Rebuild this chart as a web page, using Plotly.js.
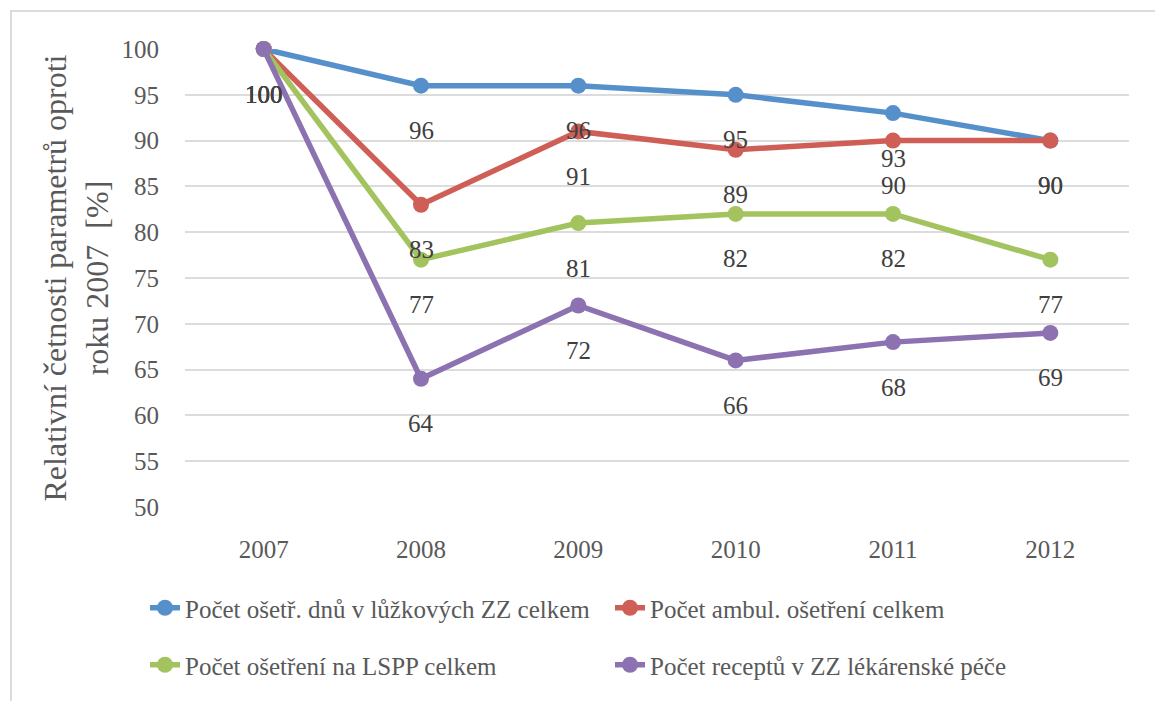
<!DOCTYPE html>
<html>
<head>
<meta charset="utf-8">
<script src="https://cdn.plot.ly/plotly-3.0.1.min.js"></script>
<style>
  html, body { margin: 0; padding: 0; background: #ffffff; }
  #wrap { position: relative; width: 1155px; height: 701px; }
  #chart { position: absolute; left: 0; top: 0; width: 1155px; height: 701px; }
  #frame {
    position: absolute; left: 10px; top: 10px; width: 1145px; height: 691px;
    border-top: 2px solid #dcdcdc; border-left: 2px solid #dcdcdc;
    pointer-events: none;
  }
</style>
</head>
<body>
<div id="wrap">
  <div id="chart"></div>
  <div id="frame"></div>
</div>
<script>
// Years on the x axis
const years = [2007, 2008, 2009, 2010, 2011, 2012];

// Relative values against 2007 (= 100 %)
const osetrDnu   = [100, 96, 96, 95, 93, 90];
const ambulOset  = [100, 83, 91, 89, 90, 90];
const lsppOset   = [100, 77, 81, 82, 82, 77];
const receptyZZ  = [100, 64, 72, 66, 68, 69];

const seriesNames = [
  'Počet ošetř. dnů v lůžkových ZZ celkem',
  'Počet ambul. ošetření celkem',
  'Počet ošetření na LSPP celkem',
  'Počet receptů v ZZ lékárenské péče'
];

const yTicks = [50, 55, 60, 65, 70, 75, 80, 85, 90, 95, 100];

const FONT = 'Liberation Serif, Cambria, serif';
const series = [osetrDnu, ambulOset, lsppOset, receptyZZ];
const colors = ['#5690cb', '#cf5f56', '#a2c35e', '#8c72b1'];
const legendIds = ['legend', 'legend', 'legend2', 'legend2'];

const traces = series.map((vals, k) => ({
  type: 'scatter',
  mode: 'lines+markers',
  x: years,
  y: vals,
  name: seriesNames[k],
  legend: legendIds[k],
  line: { color: colors[k], width: 5.5 },
  marker: { color: colors[k], size: 16 },
  cliponaxis: false,
  hoverinfo: 'skip'
}));

// Value labels placed under each point
const annotations = [];
series.forEach(vals => {
  vals.forEach((v, i) => {
    annotations.push({
      x: years[i], y: v, xref: 'x', yref: 'y',
      text: String(v), showarrow: false,
      yshift: -45, yanchor: 'middle', xanchor: 'center',
      font: { family: FONT, size: 25, color: '#404040' }
    });
  });
});

const legendBase = {
  orientation: 'h',
  xref: 'container', yref: 'container',
  xanchor: 'left', yanchor: 'middle',
  x: 145 / 1155,
  entrywidth: 420,
  entrywidthmode: 'pixels',
  bgcolor: 'rgba(0,0,0,0)',
  font: { family: FONT, size: 25, color: '#595959' }
};

const layout = {
  width: 1155, height: 701,
  margin: { l: 185, r: 26, t: 49, b: 194 },
  paper_bgcolor: 'rgba(0,0,0,0)',
  plot_bgcolor: '#ffffff',
  showlegend: true,
  font: { family: FONT, color: '#595959' },
  xaxis: {
    type: 'linear',
    range: [2006.5, 2012.5],
    tickvals: years,
    ticktext: years.map(String),
    showgrid: false,
    zeroline: false,
    showline: false,
    ticks: 'outside', ticklen: 20, tickcolor: 'rgba(0,0,0,0)',
    tickfont: { family: FONT, size: 25, color: '#595959' }
  },
  yaxis: {
    range: [50, 100],
    tickvals: yTicks,
    ticktext: yTicks.map(String),
    showgrid: true, gridcolor: '#dcdcdc', gridwidth: 2,
    zeroline: false, showline: false,
    ticks: 'outside', ticklen: 20, tickcolor: 'rgba(0,0,0,0)',
    tickfont: { family: FONT, size: 25, color: '#595959' },
    title: {
      text: 'Relativní četnosti parametrů oproti<br>roku 2007  [%]',
      font: { family: FONT, size: 32, color: '#595959' },
      standoff: 3
    }
  },
  legend: Object.assign({}, legendBase, { y: 1 - 608 / 701 }),
  legend2: Object.assign({}, legendBase, { y: 1 - 665 / 701 }),
  annotations: annotations
};

Plotly.newPlot('chart', traces, layout, { displayModeBar: false, staticPlot: true });
</script>
</body>
</html>
